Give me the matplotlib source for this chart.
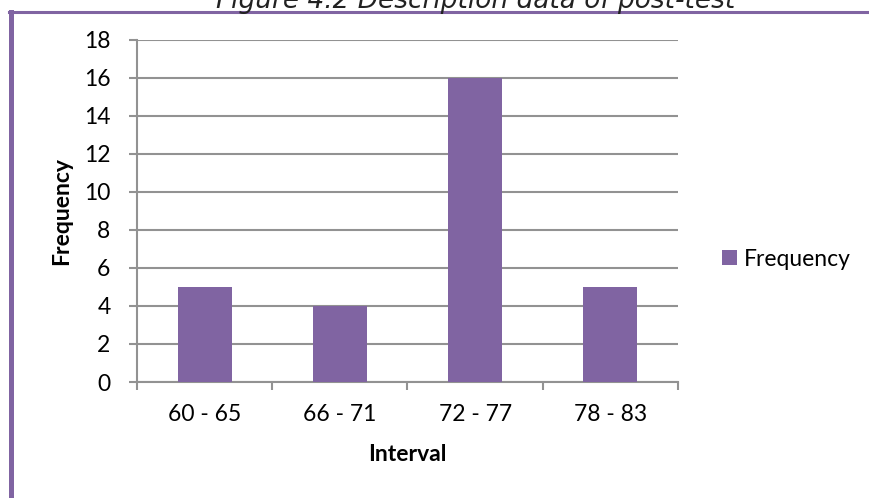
import matplotlib.pyplot as plt
from matplotlib.lines import Line2D
import numpy as np

intervals = ["60 - 65", "66 - 71", "72 - 77", "78 - 83"]
frequency = [5, 4, 16, 5]
y_ticks = [0, 2, 4, 6, 8, 10, 12, 14, 16, 18]

PURPLE = "#8064A2"
GRID = "#929292"
FS = 16.5


def main():
    """bar chart of post-test score frequencies per interval"""
    plt.rcParams["font.family"] = ["Lato", "DejaVu Sans"]
    fig = plt.figure(figsize=(8.7, 4.98), dpi=100)
    W, H = 870, 498

    # axes box in pixel units
    left, right, top, bottom = 137, 678, 40, 382
    ax = fig.add_axes([left / W, 1 - bottom / H, (right - left) / W, (bottom - top) / H])

    x = np.arange(len(intervals))
    ax.bar(x, frequency, width=0.4, color=PURPLE, zorder=3, label="Frequency")
    ax.set_xlim(-0.5, len(intervals) - 0.5)
    ax.set_ylim(0, 18)

    ax.set_yticks(y_ticks)
    ax.set_yticklabels([str(v) for v in y_ticks], fontsize=FS)
    ax.yaxis.grid(True, color=GRID, linewidth=1.5, zorder=0)
    ax.tick_params(axis="y", length=6, width=1.5, color=GRID, pad=13)

    # category labels in the middle, tick marks on the boundaries
    ax.set_xticks(x)
    ax.set_xticklabels(intervals, fontsize=FS)
    ax.tick_params(axis="x", which="major", length=0, pad=16)
    ax.set_xticks(np.arange(-0.5, len(intervals)), minor=True)
    ax.tick_params(axis="x", which="minor", length=6, width=1.5, color=GRID)

    for side in ["top", "right"]:
        ax.spines[side].set_visible(False)
    for side in ["left", "bottom"]:
        ax.spines[side].set_color(GRID)
        ax.spines[side].set_linewidth(1.5)

    ax.set_ylabel("Frequency", fontsize=FS, fontweight="bold")
    ax.yaxis.set_label_coords((72 - left) / (right - left), 0.5)
    ax.set_xlabel("Interval", fontsize=FS, fontweight="bold")
    ax.xaxis.set_label_coords(0.5, -(444 - bottom) / (bottom - top))

    ax.legend(loc="center left", bbox_to_anchor=(722 / W, 1 - 259 / H),
              bbox_transform=fig.transFigure, frameon=False, fontsize=FS,
              borderpad=0, borderaxespad=0,
              handlelength=0.66, handleheight=0.66, handletextpad=0.3)

    # frame lines on the left and top of the page
    fig.add_artist(Line2D([11.5 / W, 11.5 / W], [0, 1 - 12.5 / H], color=PURPLE,
                          linewidth=3.6, transform=fig.transFigure))
    fig.add_artist(Line2D([9 / W, 1], [1 - 12.5 / H, 1 - 12.5 / H], color=PURPLE,
                          linewidth=2.2, transform=fig.transFigure))

    # figure caption, mostly above the top edge
    fig.text(476 / W, 1 - 8 / H, "Figure 4.2 Description data of post-test",
             ha="center", va="baseline", fontsize=19, style="italic",
             color="#222222", family=["DejaVu Sans"])

    fig.savefig("out.png", dpi=100)


if __name__ == "__main__":
    main()
